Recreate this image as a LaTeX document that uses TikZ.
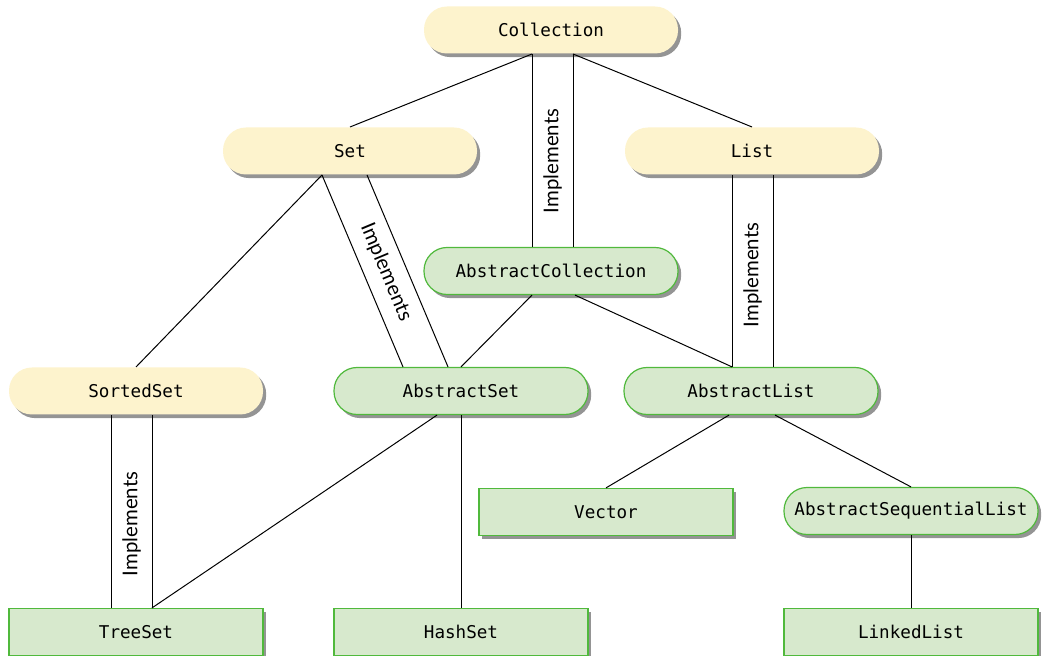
\documentclass[tikz,border=0pt]{standalone}
\usepackage{fontspec}
\setmainfont{Lato}
\setmonofont{DejaVu Sans Mono}
\usetikzlibrary{shadows}
\definecolor{ifacefill}{RGB}{253,243,205}
\definecolor{classfill}{RGB}{215,233,205}
\definecolor{classline}{RGB}{80,185,60}
\tikzset{
    iface/.style={rectangle, rounded corners=11.5pt, fill=ifacefill, inner sep=0pt,
        minimum width=127pt, minimum height=23.5pt, font=\fontsize{8.8}{10}\ttfamily,
        drop shadow={shadow xshift=1.6pt, shadow yshift=-1.8pt, fill=black!42, opacity=1}},
    absclass/.style={iface, fill=classfill, draw=classline, line width=0.6pt},
    conclass/.style={absclass, sharp corners},
    impl/.style={inner sep=1pt, font=\fontsize{10.2}{12}\selectfont}
}
\begin{document}
\begin{tikzpicture}[x=0.5pt,y=-0.5pt,line width=0.5pt]
            \useasboundingbox (0,0) rectangle (1042,656);

            % interfaces
            \node [iface](C) at (551,30) {Collection};
            \node [iface](S) at (350,151) {Set};
            \node [iface](L) at (752,151) {List};
            \node [iface](SS) at (136,391) {SortedSet};

            % abstract classes
            \node [absclass](AC) at (551,271) {AbstractCollection};
            \node [absclass](AS) at (461,391) {AbstractSet};
            \node [absclass](AL) at (751,391) {AbstractList};
            \node [absclass](ASL) at (911,511) {AbstractSequentialList};

            % concrete classes
            \node [conclass](V) at (606,512) {Vector};
            \node [conclass](TS) at (136,632) {TreeSet};
            \node [conclass](HS) at (461,632) {HashSet};
            \node [conclass](LL) at (911,632) {LinkedList};

            \draw ([xshift=-9.5pt]C.south) -- (S.north);
            \draw ([xshift=11pt]C.south) -- (L.north);
            \draw ([xshift=-9.5pt]C.south) -- ([xshift=-9.5pt]AC.north);
            \draw ([xshift=11pt]C.south) -- ([xshift=11pt]AC.north);
            \node [impl,rotate=90](I1) at (552.5,161) {Implements};

            \draw ([xshift=-14pt]S.south) -- (SS.north);
            \draw ([xshift=-14pt]S.south) -- ([xshift=-29pt]AS.north);
            \draw ([xshift=8.5pt]S.south) -- ([xshift=-6.5pt]AS.north);
            \node [impl,rotate=-67.3](I2) at (386,272) {Implements};

            \draw ([xshift=-9.5pt]AC.south) -- (AS.north);
            \draw ([xshift=12pt]AC.south) -- ([xshift=-9.5pt]AL.north);

            \draw ([xshift=-10pt]L.south) -- ([xshift=-9.5pt]AL.north);
            \draw ([xshift=10.5pt]L.south) -- ([xshift=11pt]AL.north);
            \node [impl,rotate=90](I3) at (752.5,275) {Implements};

            \draw ([xshift=-11pt]AL.south) -- (V.north);
            \draw ([xshift=12pt]AL.south) -- (ASL.north);
            \draw (ASL.south) -- (LL.north);

            \draw ([xshift=-12pt]AS.south) -- ([xshift=8pt]TS.north);
            \draw (AS.south) -- (HS.north);

            \draw ([xshift=-12.5pt]SS.south) -- ([xshift=-12.5pt]TS.north);
            \draw ([xshift=8pt]SS.south) -- ([xshift=8pt]TS.north);
            \node [impl,rotate=90](I4) at (131.5,524) {Implements};
\end{tikzpicture}
\end{document}
